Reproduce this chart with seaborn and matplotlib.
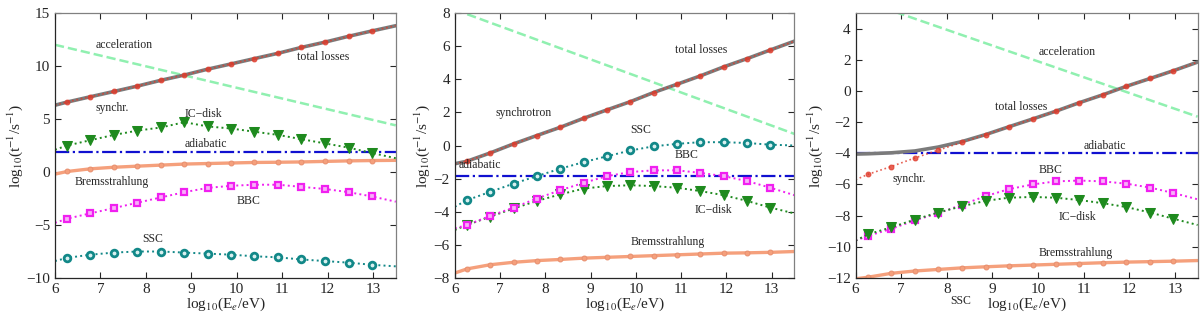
import matplotlib
matplotlib.use("Agg")
import matplotlib.pyplot as plt
import seaborn as sns

"""
cooling and acceleration rates of electrons, three source models
"""

# energy grid, log10(E_e/eV); markers sit on the interior points
log_e = [6.0, 6.27, 6.78, 7.3, 7.81, 8.33, 8.85, 9.36, 9.88, 10.39,
         10.91, 11.42, 11.94, 12.46, 12.97, 13.5]
acc_x = [6.0, 13.5]

# panel 1
p1_total = [6.3, 6.6, 7.1, 7.6, 8.1, 8.65, 9.15, 9.7, 10.2, 10.7, 11.2,
            11.75, 12.25, 12.8, 13.3, 13.8]
p1_synchr = p1_total
p1_acc = [12.0, 4.4]
p1_icdisk = [2.1, 2.5, 3.0, 3.5, 3.9, 4.2, 4.7, 4.3, 4.1, 3.8, 3.5, 3.1,
             2.7, 2.3, 1.8, 1.3]
p1_adiab = [1.9, 1.9]
p1_brems = [-0.2, 0.05, 0.3, 0.45, 0.55, 0.65, 0.75, 0.8, 0.85, 0.9, 0.92,
            0.95, 1.0, 1.05, 1.08, 1.1]
p1_bbc = [-4.8, -4.4, -3.9, -3.4, -2.9, -2.4, -1.9, -1.5, -1.3, -1.2, -1.2,
          -1.4, -1.6, -1.9, -2.3, -2.8]
p1_ssc = [-8.4, -8.1, -7.8, -7.6, -7.5, -7.5, -7.6, -7.7, -7.8, -7.95,
          -8.05, -8.25, -8.4, -8.55, -8.75, -8.9]

# panel 2
p2_total = [-1.1, -0.95, -0.45, 0.1, 0.6, 1.1, 1.65, 2.15, 2.65, 3.2, 3.7,
            4.2, 4.75, 5.25, 5.77, 6.3]
p2_synchr = p2_total
p2_acc = [8.2, 0.7]
p2_ssc = [-3.7, -3.3, -2.8, -2.3, -1.85, -1.4, -1.0, -0.65, -0.3, -0.05,
          0.1, 0.2, 0.2, 0.15, 0.05, 0.0]
p2_bbc = [-5.0, -4.8, -4.25, -3.75, -3.2, -2.7, -2.25, -1.85, -1.6, -1.5,
          -1.5, -1.65, -1.85, -2.15, -2.55, -3.0]
p2_icdisk = [-5.1, -4.8, -4.3, -3.8, -3.35, -2.95, -2.6, -2.45, -2.4, -2.45,
             -2.55, -2.75, -3.0, -3.35, -3.75, -4.1]
p2_adiab = [-1.85, -1.85]
p2_brems = [-7.7, -7.45, -7.2, -7.05, -6.95, -6.88, -6.8, -6.75, -6.7,
            -6.65, -6.6, -6.55, -6.5, -6.48, -6.45, -6.4]

# panel 3
p3_total = [-4.05, -4.03, -3.97, -3.85, -3.6, -3.25, -2.8, -2.3, -1.8, -1.3,
            -0.75, -0.25, 0.3, 0.8, 1.3, 1.85]
p3_synchr = [-5.7, -5.35, -4.85, -4.3, -3.8, -3.3, -2.8, -2.3, -1.8, -1.3,
             -0.75, -0.25, 0.3, 0.8, 1.3, 1.85]
p3_acc = [5.95, -1.65]
p3_adiab = [-4.0, -4.0]
p3_bbc = [-9.6, -9.3, -8.85, -8.3, -7.85, -7.3, -6.75, -6.3, -6.0, -5.8,
          -5.75, -5.8, -5.95, -6.2, -6.55, -6.95]
p3_icdisk = [-9.6, -9.2, -8.75, -8.25, -7.8, -7.4, -7.05, -6.85, -6.8,
             -6.85, -7.0, -7.2, -7.45, -7.8, -8.2, -8.6]
p3_brems = [-12.05, -11.95, -11.7, -11.55, -11.45, -11.35, -11.28, -11.22,
            -11.17, -11.12, -11.07, -11.02, -10.98, -10.95, -10.92, -10.88]

MARK = list(range(1, 15))

C_TOTAL = "#7b7b7b"
C_SYN = "#e03a2a"
C_ACC = "#90f0b0"
C_IC = "#1e8a1e"
C_ADI = "#1010d0"
C_BREMS = "#f5a07c"
C_BBC = "#f020f0"
C_SSC = "#128888"


def draw_total(ax, total, synchr):
    sns.lineplot(x=log_e, y=total, ax=ax, color=C_TOTAL, lw=2.6, sort=False)
    sns.lineplot(x=log_e, y=synchr, ax=ax, color=C_SYN, lw=1.2, ls=":",
                 marker="o", ms=3.5, mec=C_SYN, markevery=MARK, sort=False,
                 alpha=0.8)


def draw_acc(ax, acc):
    sns.lineplot(x=acc_x, y=acc, ax=ax, color=C_ACC, lw=1.8, ls="--",
                 sort=False)


def draw_adiab(ax, adiab):
    sns.lineplot(x=acc_x, y=adiab, ax=ax, color=C_ADI, lw=1.6, ls="-.",
                 sort=False)


def draw_brems(ax, brems):
    sns.lineplot(x=log_e, y=brems, ax=ax, color=C_BREMS, lw=2.4,
                 marker="o", ms=3.5, mec="#e89070", markevery=MARK,
                 sort=False)


def draw_ic(ax, ic):
    sns.lineplot(x=log_e, y=ic, ax=ax, color=C_IC, lw=1.4, ls=":",
                 marker="v", ms=7, mec=C_IC, markevery=MARK, sort=False)


def draw_bbc(ax, bbc):
    sns.lineplot(x=log_e, y=bbc, ax=ax, color=C_BBC, lw=1.4, ls=":",
                 marker="s", ms=5, mfc="#f8b0f8", mec=C_BBC, mew=1.6,
                 markevery=MARK, sort=False)


def draw_ssc(ax, ssc):
    sns.lineplot(x=log_e, y=ssc, ax=ax, color=C_SSC, lw=1.4, ls=":",
                 marker="o", ms=4.8, mfc="#d8f0f0", mec=C_SSC, mew=2.0,
                 markevery=MARK, sort=False)


def label(ax, x, y, s, **kw):
    ax.text(x, y, s, fontsize=8.5, va="center", ha="left", **kw)


def main():
    sns.set_style("ticks")
    plt.rcParams["font.family"] = ["Liberation Serif", "DejaVu Serif"]
    plt.rcParams["mathtext.fontset"] = "stix"

    fig = plt.figure(figsize=(12, 3.17), dpi=100)
    ax1 = fig.add_axes([0.0458, 0.123, 0.284, 0.836])
    ax2 = fig.add_axes([0.379, 0.123, 0.283, 0.836])
    ax3 = fig.add_axes([0.713, 0.123, 0.285, 0.836])

    # panel 1
    draw_acc(ax1, p1_acc)
    draw_adiab(ax1, p1_adiab)
    draw_brems(ax1, p1_brems)
    draw_bbc(ax1, p1_bbc)
    draw_ssc(ax1, p1_ssc)
    draw_ic(ax1, p1_icdisk)
    draw_total(ax1, p1_total, p1_synchr)
    ax1.set_ylim(-10, 15)
    ax1.set_yticks(range(-10, 16, 5))
    label(ax1, 6.9, 11.95, "acceleration")
    label(ax1, 11.33, 10.85, "total losses")
    label(ax1, 6.9, 6.0, "synchr.")
    label(ax1, 8.86, 5.47, "IC\u2212disk")
    label(ax1, 8.86, 2.67, "adiabatic")
    label(ax1, 6.43, -0.97, "Bremsstrahlung")
    label(ax1, 10.0, -2.77, "BBC")
    label(ax1, 7.92, -6.3, "SSC")

    # panel 2
    draw_acc(ax2, p2_acc)
    draw_adiab(ax2, p2_adiab)
    draw_brems(ax2, p2_brems)
    draw_ic(ax2, p2_icdisk)
    draw_bbc(ax2, p2_bbc)
    draw_ssc(ax2, p2_ssc)
    draw_total(ax2, p2_total, p2_synchr)
    ax2.set_ylim(-8, 8)
    ax2.set_yticks(range(-8, 9, 2))
    label(ax2, 10.86, 5.75, "total losses")
    label(ax2, 6.9, 1.96, "synchrotron")
    label(ax2, 9.88, 0.92, "SSC")
    label(ax2, 10.86, -0.6, "BBC")
    label(ax2, 6.09, -1.2, "adiabatic")
    label(ax2, 11.3, -3.9, "IC\u2212disk")
    label(ax2, 9.88, -5.85, "Bremsstrahlung")

    # panel 3
    draw_acc(ax3, p3_acc)
    draw_adiab(ax3, p3_adiab)
    draw_brems(ax3, p3_brems)
    draw_bbc(ax3, p3_bbc)
    draw_ic(ax3, p3_icdisk)
    draw_total(ax3, p3_total, p3_synchr)
    ax3.set_ylim(-12, 5)
    ax3.set_yticks(range(-12, 5, 2))
    label(ax3, 10.02, 2.5, "acceleration")
    label(ax3, 9.05, -1.03, "total losses")
    label(ax3, 11.0, -3.55, "adiabatic")
    label(ax3, 10.02, -5.04, "BBC")
    label(ax3, 6.8, -5.68, "synchr.")
    label(ax3, 10.46, -8.1, "IC\u2212disk")
    label(ax3, 10.02, -10.4, "Bremsstrahlung")
    label(ax3, 8.07, -13.5, "SSC", clip_on=False)

    for ax in (ax1, ax2, ax3):
        ax.set_xlim(6, 13.5)
        ax.set_xticks(range(6, 14))
        ax.tick_params(direction="in", labelsize=11, top=True, right=True,
                       length=4, width=0.8)
        ax.set_xlabel(r"log$_{10}$(E$_e$/eV)", fontsize=11, labelpad=0)
        ax.set_ylabel(r"log$_{10}$(t$^{-1}$/s$^{-1}$)", fontsize=11,
                      labelpad=1)
        for name, sp in ax.spines.items():
            sp.set_visible(True)
            sp.set_linewidth(0.9)
            if name in ("top", "right"):
                sp.set_color("#808080")

    fig.savefig("out.png", dpi=100)


if __name__ == '__main__':
    main()
